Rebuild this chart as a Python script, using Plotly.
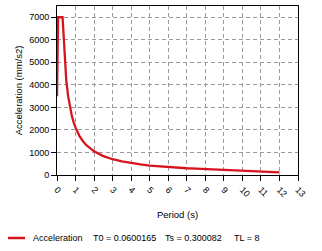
import plotly.graph_objects as go

period = [0, 0.06, 0.3, 0.4, 0.5, 0.6, 0.7, 0.8, 0.9, 1.0, 1.2, 1.4, 1.6, 1.8, 2.0,
          2.5, 3.0, 3.5, 4.0, 4.5, 5.0, 5.5, 6.0, 6.5, 7.0, 7.5, 8.0, 9.0, 10.0, 11.0, 12.0]
accel = [3500, 7000, 7000, 5250, 4200, 3500, 3000, 2625, 2333, 2100, 1750, 1500, 1313, 1167, 1050,
         840, 700, 600, 525, 467, 420, 382, 350, 323, 300, 280, 263, 207, 168, 139, 117]
x_ticks = list(range(0, 14))
y_ticks = list(range(0, 8000, 1000))
series_name = "Acceleration"
legend_params = ["T0 = 0.0600165", "Ts = 0.300082", "TL = 8"]

RED = "#d7141e"
FONT = "Liberation Sans, Arial"

fig = go.Figure()
fig.add_trace(go.Scatter(x=period, y=accel, mode="lines", name=series_name,
                         line=dict(color=RED, width=2.3), showlegend=False))

axis_common = dict(showline=True, linecolor="black", linewidth=1, mirror=True,
                   ticks="outside", ticklen=5, tickcolor="black", automargin=False,
                   showgrid=True, gridcolor="#9a9a9a", griddash="4px,3px", gridwidth=1,
                   zeroline=False, tickfont=dict(family=FONT, size=9, color="black"))

W, H = 322, 251
L, R, T, B = 57, 24, 6, 76
pw, ph = W - L - R, H - T - B

def px(xp):
    return (xp - L) / pw

def py(yp):
    return (H - B - yp) / ph

fig.update_layout(
    width=W, height=H,
    margin=dict(l=L, r=R, t=T, b=B),
    paper_bgcolor="white", plot_bgcolor="white",
    font=dict(family=FONT, size=9, color="black"),
    showlegend=False,
    xaxis=dict(range=[0, 13], tickvals=x_ticks, tickangle=45,
               title=dict(text="Period (s)", font=dict(size=9.5), standoff=13), **axis_common),
    yaxis=dict(range=[0, 7500], tickvals=y_ticks,
               title=dict(text="Acceleration (mm/s2)", font=dict(size=9.5), standoff=4), **axis_common),
)

# legend drawn as a sample line and text labels
ly = 238
fig.add_shape(type="line", xref="paper", yref="paper",
              x0=px(8), x1=px(25), y0=py(ly), y1=py(ly),
              line=dict(color=RED, width=2.5))
label_x = [31, 91, 163, 232]
for txt, xx in zip([series_name] + legend_params, label_x):
    fig.add_annotation(text=txt, xref="paper", yref="paper", x=px(xx), y=py(ly),
                       xanchor="left", yanchor="middle", showarrow=False,
                       font=dict(family=FONT, size=9, color="black"))

fig.write_html("out.html")
